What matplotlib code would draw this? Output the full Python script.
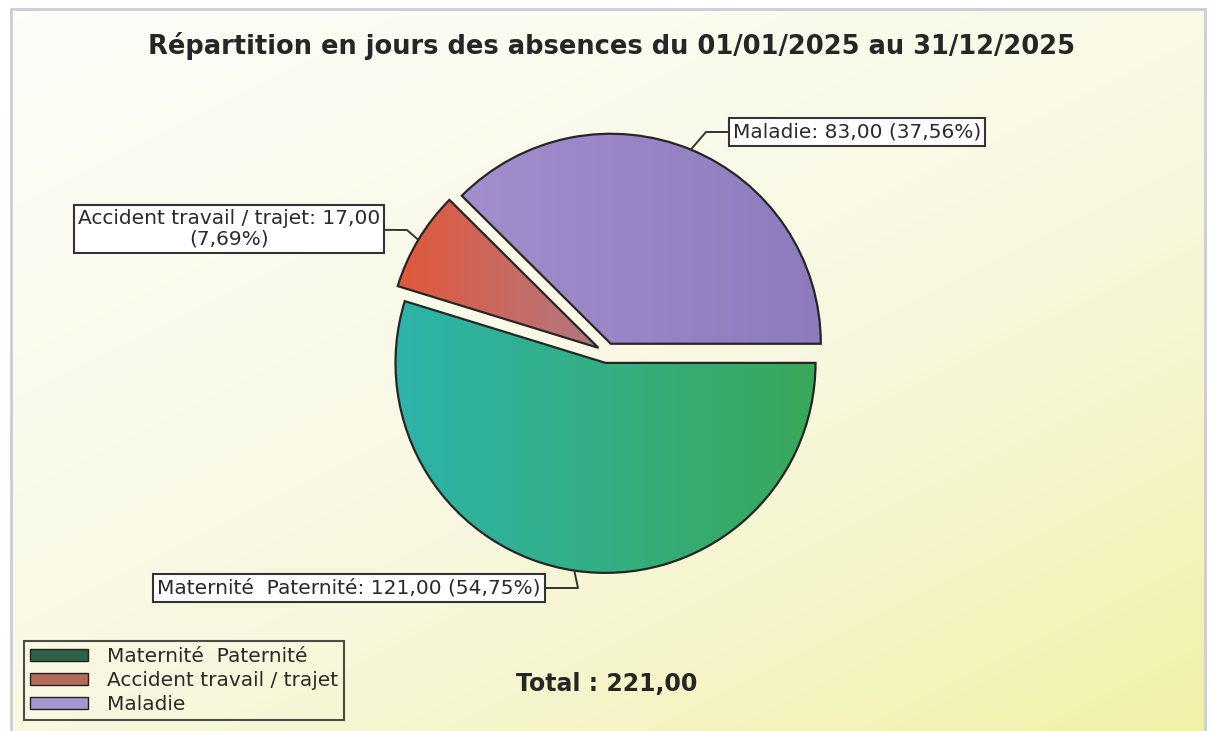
import numpy as np
import matplotlib.pyplot as plt
from matplotlib.colors import LinearSegmentedColormap
from matplotlib.patches import Rectangle, Patch

W, H = 1211, 731

title = "Répartition en jours des absences du 01/01/2025 au 31/12/2025"
categories = ["Maternité  Paternité", "Accident travail / trajet", "Maladie"]
days = [121, 17, 83]

# slice gradients (left colour, right colour) and legend swatches
slice_grad = [("#2db4aa", "#39a85a"), ("#e3583a", "#b07882"), ("#a28ecc", "#8e7bbe")]
legend_colors = ["#2e5f47", "#b36a58", "#a496cf"]


def fr(v):
    # french number format
    return f"{v:.2f}".replace(".", ",")


fig = plt.figure(figsize=(W / 100, H / 100), dpi=100)
fig.patch.set_facecolor("white")
ax = fig.add_axes([0, 0, 1, 1])

# background: pale cream to yellow
yy, xx = np.mgrid[0:1:200j, 0:1:300j]
t = np.clip(0.45 * xx + 0.55 * (1 - yy), 0, 1) ** 1.2
bg_cmap = LinearSegmentedColormap.from_list("bg", ["#fdfdf8", "#f8f8e0", "#f1f1a8"])
ax.imshow(t, cmap=bg_cmap, origin="lower", extent=(11, 1205, -5, H - 9),
          aspect="auto", interpolation="bilinear", zorder=0)
ax.add_patch(Rectangle((11, -5), 1194, H - 9 + 5, fc="none", ec="#c9cdd8", lw=2, zorder=0.5))

# pie
wedges, _ = ax.pie(days, startangle=0, counterclock=False, radius=210,
                   center=(607, 378), explode=[10, 10, 10],
                   wedgeprops=dict(fc="none", ec="#262626", lw=1.6, zorder=3))

for w, (c0, c1) in zip(wedges, slice_grad):
    ext = w.get_path().get_extents()
    cmap = LinearSegmentedColormap.from_list("s", [c0, c1])
    g = np.linspace(0, 1, 256)[None, :]
    im = ax.imshow(g, cmap=cmap, extent=(ext.x0, ext.x1, ext.y0, ext.y1),
                   aspect="auto", interpolation="bilinear", zorder=2)
    im.set_clip_path(w)

# labels with leader lines
total = sum(days)
pcts = [v / total * 100 for v in days]
texts = [
    f"{categories[0]}: {fr(days[0])} ({fr(pcts[0])}%)",
    f"{categories[1]}: {fr(days[1])}\n({fr(pcts[1])}%)",
    f"{categories[2]}: {fr(days[2])} ({fr(pcts[2])}%)",
]
box_pos = [(349, 143), (229, 502), (857, 599)]
elbows = [(578, 143), (407, 501), (706, 599)]

for w, txt, bp, el in zip(wedges, texts, box_pos, elbows):
    tm = np.deg2rad((w.theta1 + w.theta2) / 2)
    cx, cy = w.center
    anchor = (cx + w.r * np.cos(tm), cy + w.r * np.sin(tm))
    ax.plot([anchor[0], el[0], bp[0]], [anchor[1], el[1], bp[1]],
            color="#333333", lw=1.4, zorder=4)
    ax.text(bp[0], bp[1], txt, ha="center", va="center", family="DejaVu Sans",
            fontsize=14.5, color="#2a2a2a", linespacing=1.1, zorder=5,
            bbox=dict(boxstyle="square,pad=0.2", fc="white", ec="#333333", lw=1.5))

# title and total
ax.text(611, H - 46, title, ha="center", va="center", family="DejaVu Sans",
        fontweight="bold", fontsize=18.5, color="#262626")
ax.text(607, H - 684, "Total : " + fr(total), ha="center", va="center",
        family="DejaVu Sans", fontweight="bold", fontsize=17, color="#262626")

# legend
handles = [Patch(fc=c, ec="#222222", lw=1) for c in legend_colors]
leg = ax.legend(handles, categories, loc="lower left",
                bbox_to_anchor=(24 / W, 11 / H), bbox_transform=fig.transFigure,
                prop=dict(family="DejaVu Sans", size=14.5), frameon=True,
                fancybox=False, edgecolor="#222222", facecolor="none",
                handlelength=2.9, handleheight=0.55, labelspacing=0.25,
                borderpad=0.3, handletextpad=0.9, borderaxespad=0)
leg.get_frame().set_linewidth(1.5)
for tx in leg.get_texts():
    tx.set_color("#2a2a2a")

ax.set_xlim(0, W)
ax.set_ylim(0, H)
ax.set_axis_off()

fig.savefig("out.png", dpi=100)
